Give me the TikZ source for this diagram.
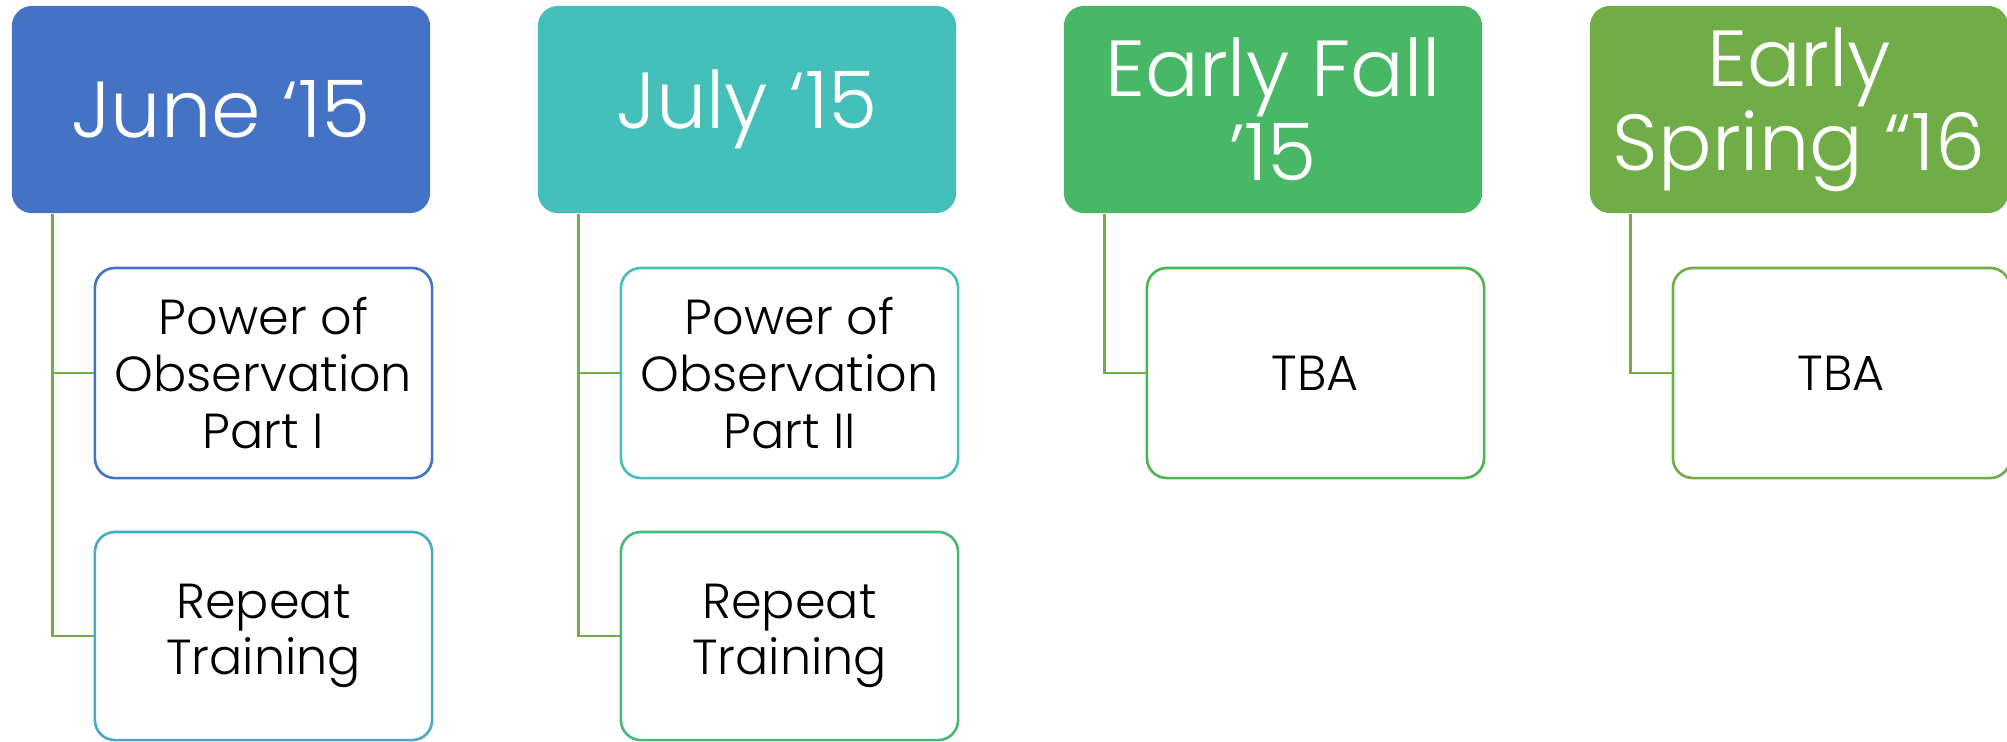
\documentclass[tikz,border=0pt]{standalone}
\usepackage{fontspec}
\setmainfont{Poppins}[UprightFont=* Light]
\usepackage{tikz}
\definecolor{juneblue}{HTML}{4472C4}
\definecolor{julyteal}{HTML}{45BFB9}
\definecolor{fallgreen}{HTML}{48B766}
\definecolor{springgreen}{HTML}{70AD47}
\definecolor{repeatblue}{HTML}{4BA8C6}
\definecolor{repeatgreen}{HTML}{48B878}
\definecolor{tbagreen}{HTML}{4CB550}
\begin{document}
\begin{tikzpicture}
[x=0.01cm,y=-0.01cm,
month/.style={rectangle,rounded corners=0.2cm,fill=#1,text=white,inner sep=0pt,minimum width=4.18cm,minimum height=2.07cm,align=center,font=\fontsize{22.6}{23.9}\selectfont},
task/.style={rectangle,rounded corners=0.2cm,draw=#1,line width=0.75pt,fill=white,inner sep=0pt,minimum width=3.37cm,minimum height=2.1cm,align=center,font=\fontsize{14}{16.1}\selectfont},
stem/.style={draw=springgreen,line width=0.75pt}]
\useasboundingbox (0,0) rectangle (2007,741);
\node[month=juneblue] (h1) at (221,109.5) {June ‘15};
\node[month=julyteal] (h2) at (747,109.5) {July ‘15};
\node[month=fallgreen] (h3) at (1273,109.5) {Early Fall\\’15};
\node[month=springgreen] (h4) at (1799,109.5) {Early\\Spring “16};

\node[task=juneblue] (t11) at (263.5,373) {Power of\\Observation\\Part I};
\node[task=repeatblue,minimum height=2.08cm] (t12) at (263.5,636) {Repeat\\Training};
\node[task=julyteal] (t21) at (789.5,373) {Power of\\Observation\\Part II};
\node[task=repeatgreen,minimum height=2.08cm] (t22) at (789.5,636) {Repeat\\Training};
\node[task=tbagreen] (t31) at (1315.5,373) {TBA};
\node[task=springgreen] (t41) at (1841.5,373) {TBA};

\draw [stem] ([xshift=0.41cm]h1.south west) |- (t11.west);
\draw [stem] ([xshift=0.41cm]h1.south west) |- (t12.west);
\draw [stem] ([xshift=0.41cm]h2.south west) |- (t21.west);
\draw [stem] ([xshift=0.41cm]h2.south west) |- (t22.west);
\draw [stem] ([xshift=0.41cm]h3.south west) |- (t31.west);
\draw [stem] ([xshift=0.41cm]h4.south west) |- (t41.west);
\end{tikzpicture}
\end{document}
